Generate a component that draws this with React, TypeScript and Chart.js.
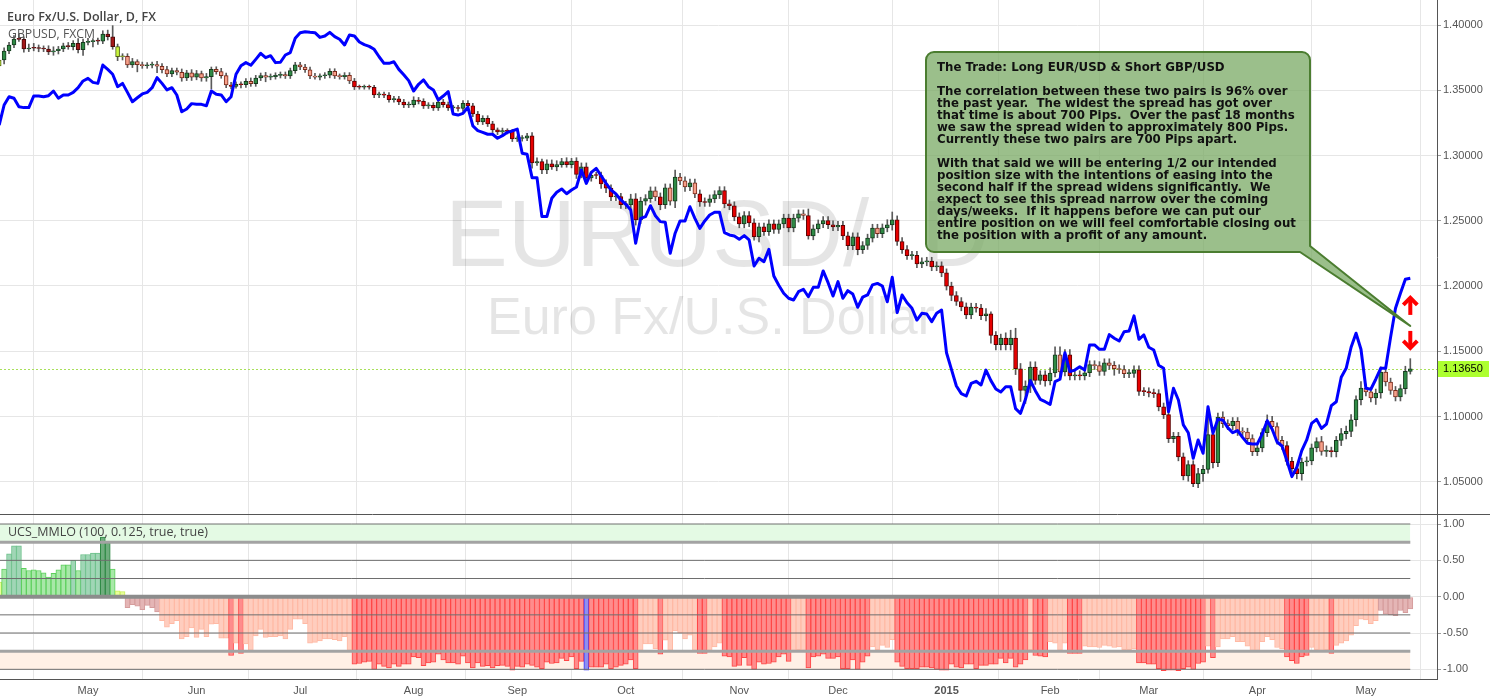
import React, { useEffect, useRef } from 'react';
import { Chart, registerables } from 'chart.js';

Chart.register(...registerables);

// ---------------- data ----------------
const monthTickIndex = [18, 40, 61, 84, 105, 127, 150, 170, 192, 213, 233, 255, 277];
const monthTickLabel = ['May', 'Jun', 'Jul', 'Aug', 'Sep', 'Oct', 'Nov', 'Dec', '2015', 'Feb', 'Mar', 'Apr', 'May'];
const priceTicks = [1.05, 1.1, 1.15, 1.2, 1.25, 1.3, 1.35, 1.4];
const oscTicks = [-1, -0.5, 0, 0.5, 1];
const oscLevels = [1, 0.75, 0.5, 0.25, 0, -0.25, -0.5, -0.75, -1];

const firstOpen = 1.3686;
const eurClose = [
  1.3732, 1.3801, 1.3847, 1.3893, 1.3890, 1.3816, 1.3824, 1.3822, 1.3820, 1.3816,
  1.3793, 1.3803, 1.3816, 1.3841, 1.3834, 1.3860, 1.3811, 1.3867, 1.3872, 1.3880,
  1.3877, 1.3931, 1.3910, 1.3834, 1.3757, 1.3760, 1.3694, 1.3719, 1.3696, 1.3688,
  1.3692, 1.3696, 1.3684, 1.3658, 1.3625, 1.3650, 1.3638, 1.3594, 1.3633, 1.3600,
  1.3627, 1.3594, 1.3604, 1.3660, 1.3643, 1.3612, 1.3540, 1.3530, 1.3545, 1.3542,
  1.3569, 1.3550, 1.3594, 1.3612, 1.3600, 1.3605, 1.3614, 1.3620, 1.3610, 1.3650,
  1.3694, 1.3678, 1.3657, 1.3609, 1.3600, 1.3611, 1.3615, 1.3645, 1.3610, 1.3605,
  1.3615, 1.3571, 1.3525, 1.3523, 1.3525, 1.3523, 1.3464, 1.3465, 1.3463, 1.3428,
  1.3434, 1.3410, 1.3387, 1.3390, 1.3425, 1.3415, 1.3380, 1.3385, 1.3365, 1.3410,
  1.3390, 1.3365, 1.3365, 1.3360, 1.3400, 1.3380, 1.3318, 1.3257, 1.3285, 1.3242,
  1.3196, 1.3180, 1.3190, 1.3185, 1.3127, 1.3130, 1.3133, 1.3150, 1.2943, 1.2953,
  1.2890, 1.2936, 1.2913, 1.2930, 1.2953, 1.2930, 1.2958, 1.2854, 1.2913, 1.2828,
  1.2848, 1.2847, 1.2783, 1.2750, 1.2683, 1.2685, 1.2624, 1.2622, 1.2668, 1.2507,
  1.2650, 1.2670, 1.2729, 1.2683, 1.2624, 1.2752, 1.2650, 1.2834, 1.2806, 1.2760,
  1.2790, 1.2706, 1.2645, 1.2640, 1.2668, 1.2700, 1.2731, 1.2629, 1.2615, 1.2530,
  1.2476, 1.2540, 1.2484, 1.2377, 1.2453, 1.2417, 1.2476, 1.2433, 1.2476, 1.2520,
  1.2445, 1.2520, 1.2553, 1.2540, 1.2384, 1.2438, 1.2476, 1.2502, 1.2469, 1.2453,
  1.2465, 1.2384, 1.2308, 1.2377, 1.2279, 1.2310, 1.2367, 1.2443, 1.2400, 1.2445,
  1.2468, 1.2507, 1.2341, 1.2279, 1.2233, 1.2235, 1.2170, 1.2185, 1.2190, 1.2147,
  1.2155, 1.2101, 1.1999, 1.1927, 1.1881, 1.1840, 1.1779, 1.1838, 1.1830, 1.1772,
  1.1787, 1.1621, 1.1550, 1.1601, 1.1550, 1.1601, 1.1366, 1.1200, 1.1233, 1.1379,
  1.1276, 1.1320, 1.1272, 1.1333, 1.1473, 1.1341, 1.1473, 1.1310, 1.1320, 1.1310,
  1.1335, 1.1397, 1.1390, 1.1345, 1.1412, 1.1391, 1.1366, 1.1360, 1.1328, 1.1330,
  1.1358, 1.1192, 1.1190, 1.1180, 1.1175, 1.1073, 1.1014, 1.0830, 1.0848, 1.0690,
  1.0544, 1.0631, 1.0485, 1.0562, 1.0595, 1.0861, 1.0646, 1.0996, 1.0945, 1.0929,
  1.0962, 1.0884, 1.0880, 1.0830, 1.0730, 1.0759, 1.0876, 1.0962, 1.0922, 1.0817,
  1.0777, 1.0656, 1.0600, 1.0562, 1.0651, 1.0660, 1.0759, 1.0807, 1.0733, 1.0735,
  1.0730, 1.0817, 1.0868, 1.0886, 1.0975, 1.1129, 1.1218, 1.1188, 1.1142, 1.1180,
  1.1341, 1.1264, 1.1200, 1.1149, 1.1213, 1.1345, 1.1365,
];
const eurUpperWickPips = [
  30, 25, 20, 25, 40, 20, 30, 35, 25, 20, 25, 30, 20, 20, 25, 20, 35, 25, 25, 15,
  20, 25, 30, 85, 20, 20, 20, 25, 15, 20, 20, 20, 25, 20, 25, 20, 20, 25, 20, 25,
  25, 20, 25, 18, 20, 25, 20, 20, 20, 20, 20, 25, 20, 20, 25, 20, 20, 20, 20, 20,
  20, 20, 20, 20, 20, 15, 20, 20, 20, 15, 20, 20, 20, 15, 15, 15, 15, 20, 20, 20,
  20, 20, 20, 20, 25, 20, 20, 20, 20, 20, 20, 20, 20, 20, 20, 20, 20, 20, 20, 20,
  20, 15, 20, 15, 15, 20, 20, 20, 25, 30, 20, 30, 30, 30, 25, 30, 20, 25, 30, 30,
  25, 25, 25, 30, 25, 25, 25, 25, 35, 40, 30, 30, 30, 30, 30, 30, 30, 55, 30, 30,
  30, 30, 30, 30, 30, 30, 30, 30, 30, 30, 30, 30, 30, 30, 30, 30, 30, 30, 30, 30,
  30, 30, 30, 30, 50, 30, 30, 30, 30, 30, 30, 30, 30, 30, 30, 30, 30, 30, 30, 30,
  40, 60, 30, 30, 30, 30, 30, 30, 30, 30, 30, 30, 30, 30, 30, 30, 30, 30, 30, 30,
  40, 15, 30, 30, 40, 60, 75, 40, 40, 40, 40, 30, 30, 40, 60, 60, 40, 40, 30, 30,
  30, 30, 30, 30, 30, 30, 30, 30, 30, 30, 30, 30, 30, 30, 30, 30, 30, 30, 30, 30,
  30, 30, 30, 40, 30, 180, 50, 30, 40, 30, 30, 30, 30, 30, 30, 30, 30, 50, 40, 30,
  30, 30, 30, 30, 30, 30, 30, 30, 40, 40, 30, 30, 40, 40, 40, 30, 50, 30, 30, 30,
  40, 40, 30, 30, 30, 40, 78,
];
const eurLowerWickPips = [
  30, 30, 20, 20, 15, 25, 20, 20, 25, 20, 20, 25, 25, 20, 20, 25, 25, 45, 20, 40,
  25, 20, 25, 20, 30, 25, 20, 20, 55, 20, 20, 20, 50, 25, 20, 20, 20, 25, 20, 25,
  20, 25, 25, 94, 20, 20, 20, 20, 15, 25, 20, 20, 20, 20, 35, 20, 20, 20, 20, 20,
  20, 20, 20, 20, 15, 20, 20, 20, 20, 20, 20, 20, 20, 15, 15, 15, 20, 20, 20, 20,
  20, 20, 20, 20, 20, 20, 20, 20, 20, 20, 20, 20, 20, 20, 20, 20, 20, 20, 20, 20,
  20, 20, 20, 20, 20, 20, 20, 20, 40, 20, 30, 30, 20, 30, 20, 20, 25, 30, 25, 30,
  25, 25, 35, 35, 30, 30, 30, 30, 30, 40, 30, 30, 30, 30, 40, 30, 30, 50, 30, 35,
  30, 30, 35, 30, 30, 30, 30, 30, 30, 30, 30, 30, 30, 25, 40, 30, 30, 30, 30, 30,
  30, 30, 30, 30, 25, 30, 30, 30, 30, 30, 30, 30, 30, 30, 40, 30, 30, 30, 30, 30,
  30, 40, 30, 30, 30, 30, 30, 30, 30, 30, 30, 30, 30, 40, 30, 30, 30, 30, 30, 30,
  40, 60, 40, 40, 40, 40, 45, 85, 100, 50, 30, 30, 40, 30, 30, 30, 30, 30, 30, 30,
  30, 30, 30, 30, 30, 30, 50, 30, 30, 30, 30, 30, 30, 30, 30, 30, 30, 30, 30, 30,
  30, 40, 23, 30, 60, 30, 40, 30, 30, 30, 30, 30, 30, 30, 30, 30, 30, 30, 30, 30,
  30, 30, 30, 40, 50, 30, 30, 30, 30, 40, 40, 40, 40, 40, 40, 50, 40, 30, 30, 50,
  40, 30, 30, 30, 30, 40, 20,
];
const gbpClose = [
  1.6632, 1.6748, 1.6796, 1.6787, 1.6738, 1.6733, 1.6733, 1.6800, 1.6800, 1.6796,
  1.6802, 1.6829, 1.6787, 1.6806, 1.6806, 1.6821, 1.6848, 1.6887, 1.6902, 1.6879,
  1.6873, 1.6979, 1.6954, 1.6926, 1.6854, 1.6873, 1.6821, 1.6767, 1.6790, 1.6812,
  1.6821, 1.6848, 1.6906, 1.6873, 1.6835, 1.6848, 1.6806, 1.6709, 1.6725, 1.6756,
  1.6752, 1.6752, 1.6744, 1.6829, 1.6810, 1.6806, 1.6767, 1.6796, 1.6926, 1.6975,
  1.6993, 1.6978, 1.7012, 1.7047, 1.7022, 1.7033, 1.6993, 1.6995, 1.7037, 1.7051,
  1.7134, 1.7166, 1.7172, 1.7168, 1.7166, 1.7139, 1.7147, 1.7168, 1.7143, 1.7128,
  1.7095, 1.7153, 1.7147, 1.7112, 1.7097, 1.7087, 1.7070, 1.7027, 1.6989, 1.6989,
  1.6998, 1.6954, 1.6923, 1.6889, 1.6829, 1.6868, 1.6893, 1.6854, 1.6835, 1.6777,
  1.6800, 1.6825, 1.6696, 1.6690, 1.6700, 1.6735, 1.6627, 1.6600, 1.6590, 1.6579,
  1.6579, 1.6556, 1.6571, 1.6590, 1.6598, 1.6609, 1.6469, 1.6463, 1.6328, 1.6328,
  1.6103, 1.6103, 1.6209, 1.6244, 1.6263, 1.6235, 1.6257, 1.6274, 1.6372, 1.6295,
  1.6359, 1.6382, 1.6339, 1.6295, 1.6257, 1.6234, 1.6199, 1.6174, 1.6141, 1.5949,
  1.6093, 1.6103, 1.6166, 1.6108, 1.6074, 1.6070, 1.5891, 1.6007, 1.6078, 1.6078,
  1.6160, 1.6093, 1.6035, 1.6078, 1.6112, 1.6128, 1.6128, 1.6010, 1.5997, 1.5991,
  1.5972, 1.5993, 1.5968, 1.5818, 1.5862, 1.5842, 1.5914, 1.5760, 1.5706, 1.5660,
  1.5631, 1.5621, 1.5669, 1.5683, 1.5640, 1.5694, 1.5694, 1.5789, 1.5721, 1.5644,
  1.5727, 1.5631, 1.5675, 1.5656, 1.5579, 1.5637, 1.5650, 1.5708, 1.5717, 1.5702,
  1.5611, 1.5752, 1.5548, 1.5650, 1.5605, 1.5573, 1.5505, 1.5544, 1.5540, 1.5496,
  1.5544, 1.5563, 1.5316, 1.5220, 1.5124, 1.5080, 1.5066, 1.5139, 1.5151, 1.5130,
  1.5216, 1.5155, 1.5107, 1.5089, 1.5120, 1.5120, 1.4993, 1.4966, 1.5047, 1.5155,
  1.5097, 1.5047, 1.5033, 1.5018, 1.5149, 1.5163, 1.5316, 1.5207, 1.5216, 1.5235,
  1.5216, 1.5361, 1.5361, 1.5336, 1.5336, 1.5421, 1.5400, 1.5384, 1.5438, 1.5442,
  1.5529, 1.5394, 1.5419, 1.5348, 1.5332, 1.5244, 1.5226, 1.4975, 1.5111, 1.5043,
  1.4899, 1.4854, 1.4706, 1.4812, 1.4735, 1.5004, 1.4851, 1.4931, 1.4927, 1.4883,
  1.4854, 1.4866, 1.4827, 1.4793, 1.4789, 1.4789, 1.4847, 1.4923, 1.4874, 1.4800,
  1.4777, 1.4692, 1.4600, 1.4654, 1.4750, 1.4812, 1.4908, 1.4931, 1.4879, 1.4904,
  1.5010, 1.5033, 1.5174, 1.5226, 1.5348, 1.5429, 1.5336, 1.5111, 1.5105, 1.5163,
  1.5226, 1.5226, 1.5405, 1.5573, 1.5660, 1.5741, 1.5747,
];
const mmlo = [
  0.20, 0.38, 0.59, 0.70, 0.70, 0.39, 0.36, 0.37, 0.36, 0.33,
  0.27, 0.32, 0.37, 0.44, 0.44, 0.50, 0.36, 0.58, 0.58, 0.60,
  0.60, 0.82, 0.74, 0.38, 0.08, 0.07, -0.15, -0.11, -0.13, -0.18,
  -0.12, -0.15, -0.21, -0.33, -0.42, -0.37, -0.33, -0.58, -0.55, -0.43,
  -0.56, -0.45, -0.55, -0.38, -0.37, -0.57, -0.57, -0.81, -0.64, -0.78,
  -0.65, -0.74, -0.54, -0.45, -0.56, -0.55, -0.55, -0.54, -0.58, -0.45,
  -0.31, -0.31, -0.37, -0.64, -0.63, -0.61, -0.58, -0.58, -0.59, -0.61,
  -0.55, -0.74, -0.93, -0.92, -0.90, -0.89, -1.00, -0.93, -0.96, -0.98,
  -0.93, -0.96, -0.93, -0.93, -0.83, -0.84, -0.95, -0.91, -0.90, -0.79,
  -0.87, -0.91, -0.91, -0.93, -0.82, -0.91, -0.98, -0.91, -0.96, -0.95,
  -0.98, -0.95, -0.945, -0.96, -1.01, -0.96, -0.97, -0.93, -0.945, -0.97,
  -0.99, -0.90, -0.92, -0.91, -0.85, -0.88, -0.83, -0.99, -0.89, -1.01,
  -0.97, -0.97, -0.97, -0.93, -0.99, -0.97, -0.945, -0.93, -0.87, -0.99,
  -0.74, -0.65, -0.65, -0.72, -0.79, -0.60, -0.74, -0.47, -0.50, -0.58,
  -0.53, -0.74, -0.78, -0.78, -0.74, -0.69, -0.64, -0.82, -0.83, -0.96,
  -0.945, -0.84, -0.945, -1.00, -0.90, -0.93, -0.92, -0.90, -0.83, -0.79,
  -0.89, -0.74, -0.73, -0.74, -0.98, -0.83, -0.82, -0.79, -0.85, -0.85,
  -0.83, -0.99, -0.99, -0.87, -1.00, -0.90, -0.82, -0.69, -0.73, -0.67,
  -0.70, -0.59, -0.90, -0.96, -0.99, -0.99, -0.99, -0.97, -0.97, -0.98,
  -1.00, -1.01, -1.01, -0.93, -0.97, -0.98, -0.93, -0.93, -0.99, -0.945,
  -0.945, -0.93, -0.93, -0.85, -0.91, -0.85, -0.97, -0.93, -0.87, -0.73,
  -0.81, -0.82, -0.83, -0.62, -0.64, -0.74, -0.64, -0.78, -0.78, -0.78,
  -0.68, -0.69, -0.69, -0.70, -0.67, -0.68, -0.70, -0.69, -0.73, -0.73,
  -0.72, -0.91, -0.91, -0.93, -0.93, -0.99, -1.02, -1.01, -1.01, -1.02,
  -0.99, -0.97, -1.00, -0.92, -0.90, -0.68, -0.84, -0.69, -0.58, -0.58,
  -0.55, -0.62, -0.62, -0.68, -0.74, -0.74, -0.62, -0.55, -0.59, -0.70,
  -0.72, -0.83, -0.88, -0.92, -0.83, -0.81, -0.70, -0.73, -0.74, -0.73,
  -0.78, -0.67, -0.64, -0.61, -0.53, -0.40, -0.31, -0.32, -0.37, -0.33,
  -0.19, -0.24, -0.25, -0.26, -0.19, -0.22, -0.17,
];
const markedBar = 119;

const calloutLines = [
  'The Trade: Long EUR/USD & Short GBP/USD',
  '',
  'The correlation between these two pairs is 96% over',
  'the past year.  The widest the spread has got over',
  'that time is about 700 Pips.  Over the past 18 months',
  'we saw the spread widen to approximately 800 Pips.',
  'Currently these two pairs are 700 Pips apart.',
  '',
  'With that said we will be entering 1/2 our intended',
  'position size with the intentions of easing into the',
  'second half if the spread widens significantly.  We',
  'expect to see this spread narrow over the coming',
  'days/weeks.  If it happens before we can put our',
  'entire position on we will feel comfortable closing out',
  'the position with a profit of any amount.',
];
const calloutTarget = { index: 286, price: 1.1694 };

// ---------------- layout constants ----------------
const W = 1490;
const TOP_H = 514;
const BOT_H = 186;
const AXIS_W = 53;
const X_MIN = 0.165;
const X_MAX = 291.41;
const EUR_MIN = 1.02526;
const EUR_MAX = 1.41916;
const GBP_MIN = 1.4384;
const GBP_MAX = 1.7355;
const OSC_MIN = -1.133;
const OSC_MAX = 1.138;
const SANS = '"Liberation Sans", Arial, sans-serif';
const UI = '"Open Sans", "Liberation Sans", sans-serif';

const lastIndex = eurClose.length - 1;

const candles = eurClose.map((c, i) => {
  const o = i === 0 ? firstOpen : eurClose[i - 1];
  return {
    o,
    c,
    h: Math.max(o, c) + eurUpperWickPips[i] / 10000,
    l: Math.min(o, c) - eurLowerWickPips[i] / 10000,
  };
});

function candleStyle(i: number) {
  const k = candles[i];
  const v = mmlo[i];
  const up = k.c >= k.o;
  if (v >= 0 && v < 0.25) return { fill: '#c8f53e', line: '#4f5f12' };
  if (up) return { fill: '#2f8a45', line: '#163a1e' };
  if (v >= 0) return { fill: '#a31818', line: '#470a0a' };
  if (v < -0.75) return { fill: '#e60000', line: '#5a0000' };
  return { fill: '#f7a08a', line: '#7a2a1a' };
}

function oscStyle(i: number) {
  const v = mmlo[i];
  if (i === markedBar) return { fill: '#8f8ff0', line: '#3434ff' };
  if (v >= 0.73) return { fill: '#6fae7e', line: '#2f8a45' };
  if (v >= 0.45) return { fill: '#a0d6b6', line: '#6cc08a' };
  if (v >= 0.25) return { fill: '#a8e8a8', line: '#5ccf5c' };
  if (v >= 0) return { fill: '#e8ff9a', line: '#c8ef5a' };
  if (v > -0.28) return { fill: '#e4b5b5', line: '#d59c9c' };
  if (v >= -0.75) return { fill: '#ffcdbe', line: '#ffb9a4' };
  return { fill: '#ff8c8c', line: '#ff4646' };
}

function fitFont(ctx: CanvasRenderingContext2D, text: string, weight: string, family: string, width: number) {
  ctx.font = `${weight} 100px ${family}`;
  const w = ctx.measureText(text).width || 1;
  return `${weight} ${((100 * width) / w).toFixed(2)}px ${family}`;
}

function monthLabel(v: number) {
  const k = monthTickIndex.indexOf(Math.round(v));
  return k >= 0 ? monthTickLabel[k] : '';
}

const overlayTop = {
  id: 'overlayTop',
  beforeDatasetsDraw(chart: any) {
    const ctx = chart.ctx as CanvasRenderingContext2D;
    const { y } = chart.scales;
    const area = chart.chartArea;
    ctx.save();
    // watermark (symbol / interval, description)
    ctx.fillStyle = 'rgba(0,0,0,0.1)';
    ctx.textBaseline = 'alphabetic';
    ctx.textAlign = 'left';
    ctx.font = fitFont(ctx, 'EURUSD', 'normal', SANS, 398);
    ctx.fillText('EURUSD/', 445, 266);
    ctx.fillText('D', 921, 266);
    ctx.font = fitFont(ctx, 'Euro Fx/U.S. Dollar', 'normal', SANS, 448);
    ctx.fillText('Euro Fx/U.S. Dollar', 487, 334);
    // last price line
    const py = Math.round(y.getPixelForValue(eurClose[lastIndex])) + 0.5;
    ctx.strokeStyle = '#a8e05a';
    ctx.lineWidth = 1;
    ctx.setLineDash([2, 2]);
    ctx.beginPath();
    ctx.moveTo(area.left, py);
    ctx.lineTo(area.right, py);
    ctx.stroke();
    ctx.restore();
  },
  afterDraw(chart: any) {
    const ctx = chart.ctx as CanvasRenderingContext2D;
    const { x, y } = chart.scales;
    const area = chart.chartArea;
    ctx.save();
    // titles
    ctx.textAlign = 'left';
    ctx.textBaseline = 'alphabetic';
    ctx.fillStyle = '#444444';
    ctx.font = fitFont(ctx, 'Euro Fx/U.S. Dollar, D, FX', '600', UI, 149);
    ctx.fillText('Euro Fx/U.S. Dollar, D, FX', 7, 21);
    ctx.fillStyle = '#555555';
    ctx.font = fitFont(ctx, 'GBPUSD, FXCM', 'normal', UI, 87);
    ctx.fillText('GBPUSD, FXCM', 8, 38);

    // callout box with pointer
    const tipX = x.getPixelForValue(calloutTarget.index);
    const tipY = y.getPixelForValue(calloutTarget.price);
    const L = 926, T = 52, R = 1310, B = 252, r = 8;
    ctx.beginPath();
    ctx.moveTo(L + r, T);
    ctx.lineTo(R - r, T);
    ctx.arcTo(R, T, R, T + r, r);
    ctx.lineTo(R, B - 6);
    ctx.lineTo(tipX, tipY);
    ctx.lineTo(R - 10, B);
    ctx.lineTo(L + r, B);
    ctx.arcTo(L, B, L, B - r, r);
    ctx.lineTo(L, T + r);
    ctx.arcTo(L, T, L + r, T, r);
    ctx.closePath();
    ctx.fillStyle = 'rgba(120,168,98,0.74)';
    ctx.fill();
    ctx.lineWidth = 2;
    ctx.strokeStyle = '#4b7d30';
    ctx.lineJoin = 'round';
    ctx.stroke();

    ctx.fillStyle = '#111111';
    const longest = 'entire position on we will feel comfortable closing out';
    ctx.font = fitFont(ctx, longest, 'bold', '"DejaVu Sans", Verdana, sans-serif', 359);
    calloutLines.forEach((line, k) => {
      if (line) ctx.fillText(line, 937, 71 + 12 * k);
    });

    // red arrows
    ctx.strokeStyle = '#ff0000';
    ctx.lineWidth = 4;
    ctx.lineCap = 'butt';
    ctx.lineJoin = 'miter';
    const ax = tipX;
    ctx.beginPath();
    ctx.moveTo(ax, tipY - 27);
    ctx.lineTo(ax, tipY - 11);
    ctx.stroke();
    ctx.beginPath();
    ctx.moveTo(ax - 7, tipY - 21);
    ctx.lineTo(ax, tipY - 28);
    ctx.lineTo(ax + 7, tipY - 21);
    ctx.stroke();
    ctx.beginPath();
    ctx.moveTo(ax, tipY + 5);
    ctx.lineTo(ax, tipY + 21);
    ctx.stroke();
    ctx.beginPath();
    ctx.moveTo(ax - 7, tipY + 15);
    ctx.lineTo(ax, tipY + 22);
    ctx.lineTo(ax + 7, tipY + 15);
    ctx.stroke();

    // last price label
    const py = y.getPixelForValue(eurClose[lastIndex]);
    ctx.fillStyle = '#adff2f';
    ctx.fillRect(area.right + 1, Math.round(py) - 8, 51, 16);
    ctx.fillStyle = '#000000';
    ctx.font = `11px ${SANS}`;
    ctx.textBaseline = 'middle';
    ctx.fillText(eurClose[lastIndex].toFixed(5), area.right + 6, py + 0.5);
    ctx.restore();
  },
};

const overlayBottom = {
  id: 'overlayBottom',
  afterDraw(chart: any) {
    const ctx = chart.ctx as CanvasRenderingContext2D;
    ctx.save();
    ctx.strokeStyle = '#555555';
    ctx.lineWidth = 1;
    ctx.beginPath();
    ctx.moveTo(0, 0.5);
    ctx.lineTo(W, 0.5);
    ctx.stroke();
    ctx.fillStyle = '#444444';
    ctx.textAlign = 'left';
    ctx.textBaseline = 'alphabetic';
    const t = 'UCS_MMLO (100, 0.125, true, true)';
    ctx.font = fitFont(ctx, t, 'normal', UI, 200);
    ctx.fillText(t, 8, 22);
    ctx.restore();
  },
};

export default function App() {
  const topRef = useRef<HTMLCanvasElement>(null);
  const botRef = useRef<HTMLCanvasElement>(null);

  useEffect(() => {
    document.body.style.margin = '0';
    const cs = candles.map((_, i) => candleStyle(i));
    const top = new Chart(topRef.current as HTMLCanvasElement, {
      type: 'bar',
      data: {
        datasets: [
          {
            type: 'line',
            label: 'GBPUSD',
            data: gbpClose.map((v, i) => ({ x: i, y: v })),
            yAxisID: 'yG',
            borderColor: '#0000ff',
            borderWidth: 3,
            pointRadius: 0,
            tension: 0,
            borderJoinStyle: 'round',
            order: 0,
          } as any,
          {
            type: 'bar',
            label: 'EURUSD body',
            data: candles.map((k, i) => ({ x: i, y: [k.o, k.c] })),
            yAxisID: 'y',
            backgroundColor: cs.map((s) => s.fill),
            borderColor: cs.map((s) => s.line),
            borderWidth: 1,
            borderSkipped: false,
            barThickness: 4,
            minBarLength: 1,
            grouped: false,
            order: 1,
          } as any,
          {
            type: 'bar',
            label: 'EURUSD wick',
            data: candles.map((k, i) => ({ x: i, y: [k.l, k.h] })),
            yAxisID: 'y',
            backgroundColor: '#5a5a5a',
            borderWidth: 0,
            barThickness: 1,
            grouped: false,
            order: 2,
          } as any,
        ],
      },
      options: {
        responsive: false,
        animation: false,
        devicePixelRatio: 1,
        events: [],
        layout: { padding: 0 },
        plugins: { legend: { display: false }, tooltip: { enabled: false } },
        scales: {
          x: {
            type: 'linear',
            min: X_MIN,
            max: X_MAX,
            offset: false,
            afterBuildTicks: (s: any) => {
              s.ticks = monthTickIndex.map((v) => ({ value: v }));
            },
            ticks: { display: false },
            grid: { color: '#e6e6e6', drawTicks: false },
            border: { display: false },
            afterFit: (s: any) => {
              s.height = 0;
              s.paddingLeft = 0;
              s.paddingRight = 0;
            },
          },
          y: {
            position: 'right',
            min: EUR_MIN,
            max: EUR_MAX,
            afterBuildTicks: (s: any) => {
              s.ticks = priceTicks.map((v) => ({ value: v }));
            },
            ticks: {
              callback: (v: any) => Number(v).toFixed(5),
              color: '#555555',
              font: { family: SANS, size: 11 },
              padding: 2,
            },
            grid: { color: '#e6e6e6', tickColor: '#9a9a9a', tickLength: 4 },
            border: { color: '#555555' },
            afterFit: (s: any) => {
              s.width = AXIS_W;
              s.paddingTop = 0;
              s.paddingBottom = 0;
            },
          },
          yG: { display: false, min: GBP_MIN, max: GBP_MAX },
        },
      } as any,
      plugins: [overlayTop],
    });

    const os = mmlo.map((_, i) => oscStyle(i));
    const levelStyle = (L: number) =>
      L === 0
        ? { c: '#8c8c8c', w: 4 }
        : Math.abs(L) === 0.75
        ? { c: '#a3a3a3', w: 3 }
        : { c: '#6e6e6e', w: 1 };
    const bot = new Chart(botRef.current as HTMLCanvasElement, {
      type: 'bar',
      data: {
        datasets: [
          ...oscLevels.map((L) => ({
            type: 'line',
            label: `level ${L}`,
            data: [
              { x: -0.5, y: L },
              { x: lastIndex, y: L },
            ],
            borderColor: levelStyle(L).c,
            borderWidth: levelStyle(L).w,
            pointRadius: 0,
            order: 0,
          })),
          {
            type: 'bar',
            label: 'UCS_MMLO',
            data: mmlo.map((v, i) => ({ x: i, y: v })),
            backgroundColor: os.map((s) => s.fill),
            borderColor: os.map((s) => s.line),
            borderWidth: 1,
            barThickness: 5,
            grouped: false,
            order: 1,
          },
          {
            type: 'line',
            label: 'upper band',
            data: [
              { x: -0.5, y: 1 },
              { x: lastIndex, y: 1 },
            ],
            borderWidth: 0,
            borderColor: 'rgba(0,0,0,0)',
            backgroundColor: '#e4fae4',
            fill: { value: 0.75 },
            pointRadius: 0,
            order: 2,
          },
          {
            type: 'line',
            label: 'lower band',
            data: [
              { x: -0.5, y: -1 },
              { x: lastIndex, y: -1 },
            ],
            borderWidth: 0,
            borderColor: 'rgba(0,0,0,0)',
            backgroundColor: '#fff0e6',
            fill: { value: -0.75 },
            pointRadius: 0,
            order: 2,
          },
        ] as any,
      },
      options: {
        responsive: false,
        animation: false,
        devicePixelRatio: 1,
        events: [],
        layout: { padding: 0 },
        plugins: { legend: { display: false }, tooltip: { enabled: false } },
        scales: {
          x: {
            type: 'linear',
            min: X_MIN,
            max: X_MAX,
            offset: false,
            afterBuildTicks: (s: any) => {
              s.ticks = monthTickIndex.map((v) => ({ value: v }));
            },
            ticks: {
              callback: (v: any) => monthLabel(Number(v)),
              color: '#555555',
              font: (c: any) => ({
                family: SANS,
                size: 11,
                weight: c.tick && monthLabel(c.tick.value) === '2015' ? 'bold' : 'normal',
              }),
              maxRotation: 0,
              autoSkip: false,
              padding: 5,
            },
            grid: { color: '#e6e6e6', drawTicks: false },
            border: { color: '#555555' },
            afterFit: (s: any) => {
              s.height = BOT_H - 165;
              s.paddingLeft = 0;
              s.paddingRight = 0;
            },
          },
          y: {
            position: 'right',
            min: OSC_MIN,
            max: OSC_MAX,
            afterBuildTicks: (s: any) => {
              s.ticks = oscTicks.map((v) => ({ value: v }));
            },
            ticks: {
              callback: (v: any) => Number(v).toFixed(2),
              color: '#555555',
              font: { family: SANS, size: 11 },
              padding: 2,
            },
            grid: { color: '#e6e6e6', tickColor: '#9a9a9a', tickLength: 4 },
            border: { color: '#555555' },
            afterFit: (s: any) => {
              s.width = AXIS_W;
              s.paddingTop = 0;
              s.paddingBottom = 0;
            },
          },
        },
      } as any,
      plugins: [overlayBottom],
    });

    return () => {
      top.destroy();
      bot.destroy();
    };
  }, []);

  return (
    <div style={{ width: W, background: '#ffffff' }}>
      <canvas ref={topRef} width={W} height={TOP_H} style={{ display: 'block' }} />
      <canvas ref={botRef} width={W} height={BOT_H} style={{ display: 'block' }} />
    </div>
  );
}
